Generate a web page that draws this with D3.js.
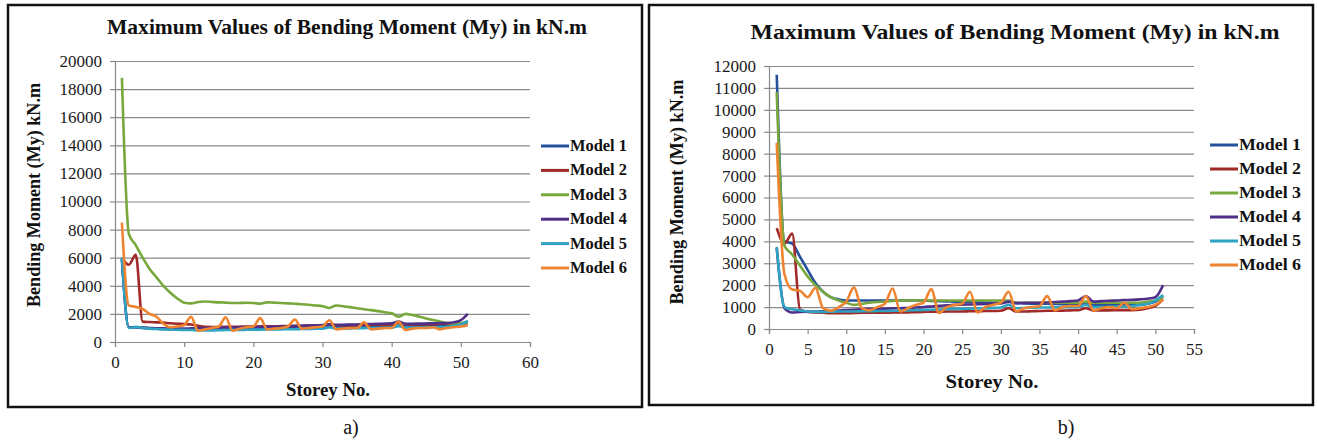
<!DOCTYPE html>
<html>
<head>
<meta charset="utf-8">
<script src="https://cdn.jsdelivr.net/npm/d3@7"></script>
<style>
  body { margin: 0; background: #fff; }
  svg text { font-family: "Liberation Serif", "Times New Roman", Times, serif; }
</style>
</head>
<body>
<svg id="fig" width="1317" height="447"></svg>
<script>
// storey numbers (x values), shared by both charts
var storeys = [1, 2, 3, 4, 5, 6, 7, 8, 9, 10, 11, 12, 13, 14, 15, 16, 17, 18, 19, 20,
  21, 22, 23, 24, 25, 26, 27, 28, 29, 30, 31, 32, 33, 34, 35, 36, 37, 38, 39, 40,
  41, 42, 43, 44, 45, 46, 47, 48, 49, 50, 51];

var modelNames = ["Model 1", "Model 2", "Model 3", "Model 4", "Model 5", "Model 6"];
var modelColors = ["#25509c", "#a02a27", "#78a83c", "#4f2f87", "#2ea3c2", "#ee8430"];

// chart a) values, kN.m
var aModel1 = [5950, 1050, 1050, 1000, 980, 950, 930, 920, 910, 900, 900, 890, 890, 900, 900, 910, 920, 930, 940, 950,
  960, 970, 980, 990, 1000, 1010, 1020, 1030, 1040, 1050, 1080, 1060, 1060, 1070, 1080, 1090, 1100, 1100, 1110, 1120,
  1150, 1120, 1120, 1130, 1140, 1150, 1150, 1160, 1180, 1250, 1350];
var aModel2 = [6000, 5500, 6200, 1450, 1420, 1400, 1380, 1330, 1300, 1280, 1250, 1150, 1080, 1070, 1070, 1080, 1080, 1090, 1100, 1100,
  1110, 1110, 1120, 1130, 1140, 1150, 1160, 1170, 1180, 1190, 1250, 1180, 1190, 1200, 1200, 1210, 1220, 1230, 1240, 1250,
  1350, 1250, 1250, 1260, 1270, 1280, 1290, 1300, 1310, 1330, 1450];
var aModel3 = [18800, 7700, 6900, 6000, 5200, 4600, 4000, 3500, 3100, 2800, 2750, 2850, 2880, 2850, 2820, 2800, 2780, 2780, 2790, 2780,
  2720, 2820, 2800, 2780, 2750, 2720, 2690, 2650, 2600, 2550, 2420, 2600, 2550, 2480, 2400, 2330, 2270, 2200, 2120, 2040,
  1800, 2000, 1920, 1800, 1680, 1560, 1450, 1350, 1300, 1330, 1400];
var aModel4 = [5900, 1050, 1050, 1020, 1000, 980, 970, 960, 960, 960, 970, 980, 990, 1000, 1010, 1020, 1030, 1040, 1050, 1060,
  1070, 1080, 1090, 1100, 1110, 1130, 1150, 1170, 1190, 1210, 1260, 1220, 1230, 1240, 1250, 1270, 1280, 1290, 1310, 1330,
  1450, 1300, 1300, 1310, 1320, 1330, 1340, 1350, 1400, 1550, 2000];
var aModel5 = [6000, 1000, 1080, 1000, 950, 920, 900, 880, 870, 860, 850, 840, 830, 830, 840, 850, 860, 860, 870, 880,
  880, 890, 900, 900, 910, 910, 920, 930, 940, 950, 1050, 950, 960, 970, 980, 990, 1000, 1000, 1010, 1020,
  1150, 1020, 1020, 1030, 1040, 1050, 1060, 1080, 1150, 1250, 1500];
var aModel6 = [8500, 2600, 2500, 2350, 2000, 1800, 1300, 1050, 1100, 1200, 1800, 800, 900, 1000, 1100, 1750, 800, 950, 1050, 1100,
  1700, 900, 950, 1000, 1100, 1600, 950, 1000, 1050, 1100, 1550, 900, 950, 1000, 1000, 1400, 900, 950, 1000, 1000,
  1450, 850, 950, 1000, 1000, 1050, 900, 1000, 1050, 1100, 1200];

// chart b) values, kN.m
var bModel1 = [11600, 4000, 3900, 3300, 2700, 2100, 1700, 1450, 1350, 1300, 1300, 1300, 1300, 1300, 1300, 1300, 1300, 1300, 1300, 1300,
  1280, 1270, 1260, 1250, 1240, 1230, 1220, 1210, 1200, 1200, 1250, 1180, 1170, 1160, 1150, 1150, 1140, 1130, 1120, 1110,
  1200, 1100, 1100, 1100, 1100, 1100, 1100, 1100, 1150, 1250, 1500];
var bModel2 = [4600, 3900, 4350, 900, 780, 750, 740, 720, 720, 720, 730, 740, 740, 740, 740, 750, 750, 760, 770, 780,
  790, 790, 800, 800, 800, 810, 810, 820, 820, 830, 950, 800, 800, 810, 820, 830, 830, 840, 850, 860,
  950, 850, 850, 850, 860, 860, 860, 880, 950, 1050, 1350];
var bModel3 = [10800, 3800, 3400, 2900, 2400, 2000, 1700, 1450, 1300, 1200, 1100, 1150, 1200, 1230, 1250, 1280, 1300, 1300, 1300, 1300,
  1300, 1300, 1300, 1300, 1300, 1300, 1300, 1300, 1300, 1300, 1300, 1200, 1200, 1200, 1200, 1200, 1200, 1200, 1200, 1200,
  1250, 1200, 1200, 1200, 1200, 1200, 1200, 1200, 1250, 1300, 1450];
var bModel4 = [3700, 950, 750, 780, 790, 800, 810, 820, 840, 860, 880, 900, 910, 920, 930, 940, 950, 960, 980, 1000,
  1030, 1060, 1080, 1100, 1110, 1120, 1130, 1140, 1150, 1160, 1250, 1180, 1190, 1200, 1200, 1210, 1230, 1250, 1270, 1300,
  1500, 1250, 1270, 1290, 1300, 1320, 1330, 1350, 1380, 1450, 2000];
var bModel5 = [3750, 1000, 900, 850, 800, 780, 780, 790, 800, 800, 800, 810, 810, 820, 820, 830, 840, 850, 860, 870,
  880, 890, 900, 910, 920, 930, 940, 950, 960, 980, 1100, 950, 960, 970, 980, 980, 990, 1000, 1000, 1010,
  1100, 1000, 1000, 1010, 1020, 1030, 1050, 1100, 1150, 1300, 1550];
var bModel6 = [8500, 2500, 1800, 1750, 1450, 1870, 950, 830, 1000, 1250, 1900, 950, 850, 1000, 1150, 1850, 800, 950, 1100, 1200,
  1820, 730, 1000, 1100, 1150, 1700, 750, 1000, 1100, 1200, 1700, 800, 950, 1000, 1050, 1500, 850, 1000, 1050, 1050,
  1500, 850, 950, 1000, 950, 1200, 900, 950, 1000, 1100, 1350];

var aXTicks = [0, 10, 20, 30, 40, 50, 60];
var aYTicks = [0, 2000, 4000, 6000, 8000, 10000, 12000, 14000, 16000, 18000, 20000];
var bXTicks = [0, 5, 10, 15, 20, 25, 30, 35, 40, 45, 50, 55];
var bYTicks = [0, 1000, 2000, 3000, 4000, 5000, 6000, 7000, 8000, 9000, 10000, 11000, 12000];

var chartTitle = "Maximum Values of Bending Moment (My) in kN.m";
var yTitle = "Bending Moment (My) kN.m";
var xTitle = "Storey No.";

var svg = d3.select("#fig");
svg.append("rect").attr("width", 1317).attr("height", 447).attr("fill", "#fff");

// layout of each panel (pixels in the figure)
var panels = [
  { series: [aModel1, aModel2, aModel3, aModel4, aModel5, aModel6], xTicks: aXTicks, yTicks: aYTicks,
    frame: [8, 5, 634, 402], left: 115, right: 530, top: 61, bottom: 342,
    titleX: 347, titleY: 34, titleLen: 480,
    yTitleX: 40, yTitleY: 195, yTitleLen: 224,
    xTitleX: 328, xTitleY: 396, xTitleLen: 84, xLabelY: 368,
    legX: 541, legY: 146, legStep: 24.4, legTextLen: 57,
    tag: "a)", tagX: 351, tagY: 434 },
  { series: [bModel1, bModel2, bModel3, bModel4, bModel5, bModel6], xTicks: bXTicks, yTicks: bYTicks,
    frame: [649, 5, 664, 400], left: 769, right: 1194, top: 66, bottom: 329,
    titleX: 1015, titleY: 39, titleLen: 529,
    yTitleX: 683, yTitleY: 192, yTitleLen: 225,
    xTitleX: 992, xTitleY: 388, xTitleLen: 93, xLabelY: 355,
    legX: 1210, legY: 145, legStep: 24, legTextLen: 62,
    tag: "b)", tagX: 1066, tagY: 434 }
];

var serif = "'Liberation Serif', 'Times New Roman', Times, serif";

panels.forEach(function(p) {
  var g = svg.append("g");

  g.append("rect")
    .attr("x", p.frame[0]).attr("y", p.frame[1])
    .attr("width", p.frame[2]).attr("height", p.frame[3])
    .attr("fill", "none").attr("stroke", "#111").attr("stroke-width", 2.5);

  var x = d3.scaleLinear()
    .domain([p.xTicks[0], p.xTicks[p.xTicks.length - 1]])
    .range([p.left, p.right]);
  var y = d3.scaleLinear()
    .domain([p.yTicks[0], p.yTicks[p.yTicks.length - 1]])
    .range([p.bottom, p.top]);

  // gridlines
  g.append("g")
    .attr("transform", "translate(" + p.left + ",0)")
    .call(d3.axisLeft(y).tickValues(p.yTicks).tickSize(-(p.right - p.left)).tickFormat(""))
    .call(function(a) {
      a.select(".domain").remove();
      a.selectAll("line").attr("stroke", "#8a8a8a").attr("stroke-width", 1.2);
    });

  // y axis
  g.append("g")
    .attr("transform", "translate(" + p.left + ",0)")
    .call(d3.axisLeft(y).tickValues(p.yTicks).tickSize(5).tickPadding(8).tickFormat(d3.format("d")))
    .call(function(a) {
      a.attr("font-family", null);
      a.select(".domain").attr("stroke", "#8a8a8a").attr("stroke-width", 1.2);
      a.selectAll("line").attr("stroke", "#8a8a8a").attr("stroke-width", 1.2);
      a.selectAll("text").style("font-size", "17px").style("font-family", serif).attr("fill", "#1a1a1a");
    });

  // x axis
  g.append("g")
    .attr("transform", "translate(0," + p.bottom + ")")
    .call(d3.axisBottom(x).tickValues(p.xTicks).tickSize(5).tickFormat(d3.format("d")))
    .call(function(a) {
      a.attr("font-family", null);
      a.select(".domain").attr("stroke", "#8a8a8a").attr("stroke-width", 1.2);
      a.selectAll("line").attr("stroke", "#8a8a8a").attr("stroke-width", 1.2);
      a.selectAll("text").style("font-size", "17px").style("font-family", serif).attr("fill", "#1a1a1a")
        .attr("y", p.xLabelY - p.bottom).attr("dy", 0);
    });

  // data lines, series 1 first so model 6 ends on top
  var line = d3.line()
    .x(function(d, i) { return x(storeys[i]); })
    .y(function(d) { return y(d); })
    .curve(d3.curveMonotoneX);

  p.series.forEach(function(vals, k) {
    g.append("path")
      .datum(vals)
      .attr("d", line)
      .attr("fill", "none")
      .attr("stroke", modelColors[k])
      .attr("stroke-width", 2.6)
      .attr("stroke-linejoin", "round");
  });

  // legend
  modelNames.forEach(function(name, k) {
    var ly = p.legY + k * p.legStep;
    g.append("line")
      .attr("x1", p.legX).attr("x2", p.legX + 28)
      .attr("y1", ly).attr("y2", ly)
      .attr("stroke", modelColors[k]).attr("stroke-width", 3);
    g.append("text")
      .attr("x", p.legX + 29).attr("y", ly + 5)
      .style("font-size", "16px").style("font-family", serif)
      .attr("font-weight", "bold").attr("fill", "#111")
      .attr("textLength", p.legTextLen).attr("lengthAdjust", "spacingAndGlyphs")
      .text(name);
  });

  // titles
  g.append("text")
    .attr("x", p.titleX).attr("y", p.titleY)
    .attr("text-anchor", "middle")
    .style("font-size", "21px").style("font-family", serif)
    .attr("font-weight", "bold").attr("fill", "#111")
    .attr("textLength", p.titleLen).attr("lengthAdjust", "spacingAndGlyphs")
    .text(chartTitle);

  g.append("text")
    .attr("transform", "translate(" + p.yTitleX + "," + p.yTitleY + ") rotate(-90)")
    .attr("text-anchor", "middle")
    .style("font-size", "18px").style("font-family", serif)
    .attr("font-weight", "bold").attr("fill", "#111")
    .attr("textLength", p.yTitleLen).attr("lengthAdjust", "spacingAndGlyphs")
    .text(yTitle);

  g.append("text")
    .attr("x", p.xTitleX).attr("y", p.xTitleY)
    .attr("text-anchor", "middle")
    .style("font-size", "18px").style("font-family", serif)
    .attr("font-weight", "bold").attr("fill", "#111")
    .attr("textLength", p.xTitleLen).attr("lengthAdjust", "spacingAndGlyphs")
    .text(xTitle);

  svg.append("text")
    .attr("x", p.tagX).attr("y", p.tagY)
    .attr("text-anchor", "middle")
    .style("font-size", "20px").style("font-family", serif)
    .attr("fill", "#111")
    .text(p.tag);
});
</script>
</body>
</html>
